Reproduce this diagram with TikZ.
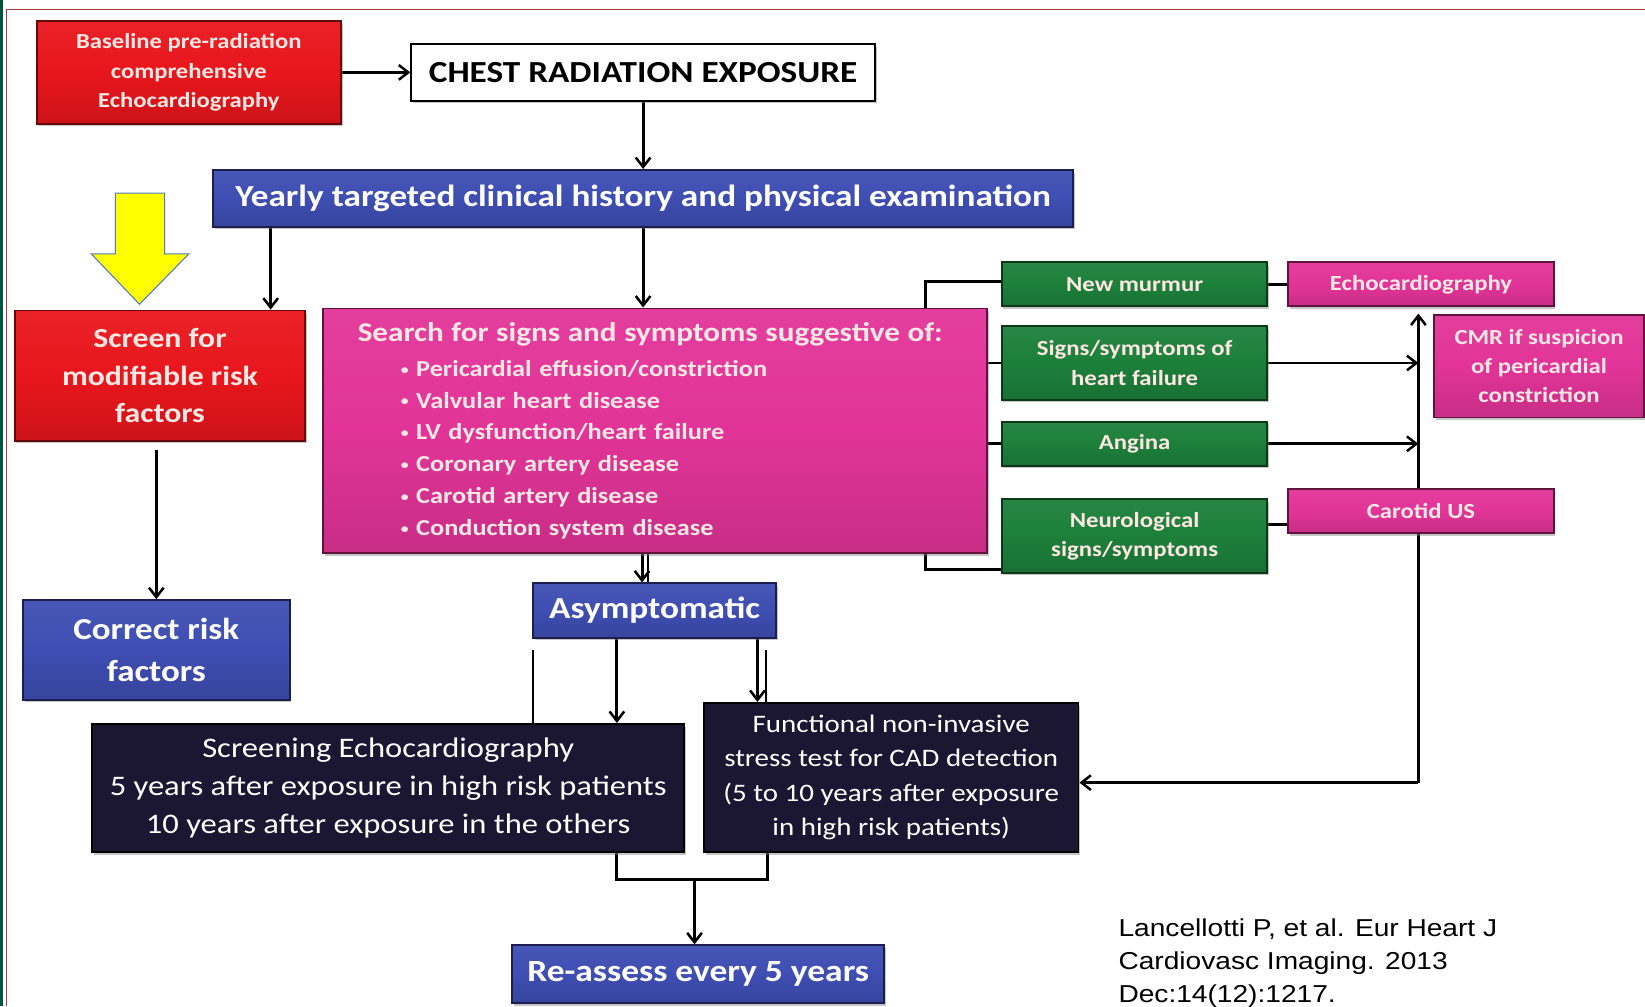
\documentclass[tikz,border=0pt]{standalone}
\usepackage{fontspec}
\setmainfont{Carlito}[FakeStretch=1.15]
\newfontfamily\arialf{Liberation Sans}[FakeStretch=1.15]
\usetikzlibrary{arrows.meta,backgrounds,shadows}
\definecolor{bred}{RGB}{232,22,28}
\definecolor{bredd}{RGB}{100,10,10}
\definecolor{bblue}{RGB}{62,78,178}
\definecolor{bblued}{RGB}{28,30,80}
\definecolor{bmag}{RGB}{226,52,152}
\definecolor{bmagd}{RGB}{95,20,60}
\definecolor{bgreen}{RGB}{28,128,58}
\definecolor{bgreend}{RGB}{12,55,25}
\definecolor{bnavy}{RGB}{27,22,50}
\definecolor{txtl}{RGB}{255,232,228}
\definecolor{framered}{RGB}{170,60,60}
\definecolor{framegreen}{RGB}{0,85,65}
\definecolor{yarrow}{RGB}{255,255,0}
\definecolor{yarrowd}{RGB}{80,120,200}
\newcommand{\bul}{\raisebox{2pt}{\fontsize{13}{13}\selectfont •}}
\tikzset{
  bx/.style={draw, line width=1.8pt, inner sep=0pt, align=center, font=\bfseries,
    drop shadow={shadow xshift=1.5pt, shadow yshift=-2.5pt, opacity=0.45}},
  shd/.style={top color=#1!95!white, bottom color=#1!88!black, middle color=#1},
  redbox/.style={bx, shd=bred, draw=bredd, text=txtl},
  bluebox/.style={bx, shd=bblue, draw=bblued, text=white},
  magbox/.style={bx, shd=bmag, draw=bmagd, text=txtl},
  greenbox/.style={bx, shd=bgreen, draw=bgreend, text=txtl},
  navybox/.style={bx, fill=bnavy, draw=black, text=white, font=\mdseries},
  arr/.style={-{Straight Barb[length=9pt,width=14pt,line width=2.4pt]}, line width=2.8pt},
  ln/.style={line width=2.8pt},
  thin/.style={line width=1.8pt},
}
\begin{document}
\begin{tikzpicture}[x=1pt,y=-1pt]
\useasboundingbox (0,0) rectangle (1568,959);
% frame
\fill[framegreen] (0,0) rectangle (2.5,959);
\draw[framered, line width=1.5pt] (6,959) -- (6,9) -- (1568,9);

% nodes
\node[redbox, minimum width=290pt, minimum height=98pt, font=\bfseries\fontsize{20.4}{28}\selectfont] (base) at (180,69)
  {Baseline pre-radiation\\comprehensive\\Echocardiography};
\node[bx, fill=white, draw=black, text=black, minimum width=442pt, minimum height=54pt, font=\bfseries\fontsize{29.2}{34}\selectfont] (chest) at (613,69)
  {CHEST RADIATION EXPOSURE};
\node[bluebox, minimum width=820pt, minimum height=54pt, font=\bfseries\fontsize{29.2}{34}\selectfont] (yearly) at (613,189)
  {Yearly targeted clinical history and physical examination};
\node[redbox, minimum width=277pt, minimum height=124pt, font=\bfseries\fontsize{26.3}{36}\selectfont] (screen) at (152.5,358)
  {Screen for\\modifiable risk\\factors};
\node[bluebox, minimum width=254pt, minimum height=95pt, font=\bfseries\fontsize{29}{40}\selectfont] (correct) at (149,619.5)
  {Correct risk\\factors};
\node[magbox, minimum width=633pt, minimum height=233pt, text width=567pt, align=left, font=\bfseries\fontsize{21.8}{30.3}\selectfont] (search) at (624.5,410.5)
  {\mbox{\fontsize{25.8}{30}\selectfont Search for signs and symptoms suggestive of:}\\[2.7pt]
   \hspace*{41pt}\bul\ Pericardial effusion/constriction\\
   \hspace*{41pt}\bul\ Valvular heart disease\\
   \hspace*{41pt}\bul\ LV dysfunction/heart failure\\
   \hspace*{41pt}\bul\ Coronary artery disease\\
   \hspace*{41pt}\bul\ Carotid artery disease\\
   \hspace*{41pt}\bul\ Conduction system disease};

\node[greenbox, minimum width=253pt, minimum height=42pt, font=\bfseries\fontsize{20.5}{28}\selectfont] (murmur) at (1081.5,271) {New murmur};
\node[greenbox, minimum width=253pt, minimum height=70pt, font=\bfseries\fontsize{20.5}{28}\selectfont] (hf) at (1081.5,346) {Signs/symptoms of\\heart failure};
\node[greenbox, minimum width=253pt, minimum height=42pt, font=\bfseries\fontsize{20.5}{28}\selectfont] (angina) at (1081.5,423) {Angina};
\node[greenbox, minimum width=253pt, minimum height=70pt, font=\bfseries\fontsize{20.5}{28}\selectfont] (neuro) at (1081.5,511) {Neurological\\signs/symptoms};

\node[magbox, minimum width=253pt, minimum height=42pt, font=\bfseries\fontsize{20.5}{28}\selectfont] (echo) at (1354.5,271) {Echocardiography};
\node[magbox, minimum width=200pt, minimum height=98pt, font=\bfseries\fontsize{20.5}{28}\selectfont] (cmr) at (1467,349) {CMR if suspicion\\of pericardial\\constriction};

\node[bluebox, minimum width=232pt, minimum height=52pt, font=\bfseries\fontsize{29.2}{36}\selectfont] (asym) at (624,582) {Asymptomatic};
\node[navybox, minimum width=564pt, minimum height=122pt, font=\fontsize{27}{36}\selectfont] (screening) at (370,751)
  {Screening Echocardiography\\5 years after exposure in high risk patients\\10 years after exposure in the others};
\node[navybox, minimum width=357pt, minimum height=142pt, font=\fontsize{24}{32.5}\selectfont] (func) at (849.5,741)
  {Functional non-invasive\\stress test for CAD detection\\(5 to 10 years after exposure\\in high risk patients)};
\node[bluebox, minimum width=355pt, minimum height=55pt, font=\bfseries\fontsize{29.4}{36}\selectfont] (reassess) at (665.5,928.5) {Re-assess every 5 years};

\node[anchor=north west, align=left, inner sep=0pt, font=\arialf\fontsize{23.3}{31}\selectfont] (cite) at (1066,876)
  {Lancellotti P, et al. Eur Heart J\\Cardiovasc Imaging. 2013\\Dec:14(12):1217.};

% yellow arrow
\draw[fill=yarrow, draw=yarrowd, line width=1pt] (110,184) -- (157,184) -- (157,242) -- (180,242) -- (133,290) -- (87,242) -- (110,242) -- cycle;

% coordinates
\coordinate (xl) at (258,0);
\coordinate (jt) at (882,268);
\coordinate (jb) at (882,543);
\coordinate (vx) at (1352,0);
\coordinate (rc) at (1352,746);
\coordinate (nc) at (0,500);

\begin{pgfonlayer}{background}
\fill[white] (3,10) rectangle (1568,959);
\draw[arr] (base.east) -- (chest.west);
\draw[arr] (chest.south) -- (yearly.north -| chest.south);
\draw[arr] (yearly.south -| xl) -- (screen.north -| xl);
\draw[arr] (yearly.south) -- (yearly.south |- search.north);
\draw[arr, shorten <=8pt] (correct.north |- screen.south) -- (correct.north);

\draw[ln] (search.north -| jt) -- (jt) -- (murmur.west |- jt);
\draw[ln] (search.east |- hf.west) -- (hf.west);
\draw[ln] (search.east |- angina.west) -- (angina.west);
\draw[ln] (search.south -| jb) -- (jb) -- (neuro.west |- jb);
\draw[ln] (murmur.east) -- (echo.west);
\draw[arr] (hf.east) -- (hf.east -| vx);
\draw[arr] (angina.east) -- (angina.east -| vx);
\draw[ln] (neuro.east |- nc) -- (1228,500);
\draw[arr, shorten >=6pt] (rc) -- (echo.south -| rc);
\draw[arr] (rc) -- (func.east |- rc);

\draw[arr] (search.south -| 612,0) -- (asym.north -| 612,0);
\draw[thin] (search.south -| 618,0) -- (asym.north -| 618,0);
\draw[thin] (508,620) -- (screening.north -| 508,0);
\draw[arr] (asym.south -| 588,0) -- (screening.north -| 588,0);
\draw[arr] (asym.south -| 722,0) -- (func.north -| 722,0);
\draw[thin] (730,620) -- (func.north -| 730,0);

\draw[ln] (screening.south -| 588,0) -- (588,838) -- (732,838) -- (func.south -| 732,0);
\draw[arr] (662,838) -- (reassess.north -| 662,0);
\end{pgfonlayer}
\node[magbox, minimum width=253pt, minimum height=42pt, font=\bfseries\fontsize{20.5}{28}\selectfont] (carotid) at (1354.5,487) {Carotid US};
\end{tikzpicture}
\end{document}
